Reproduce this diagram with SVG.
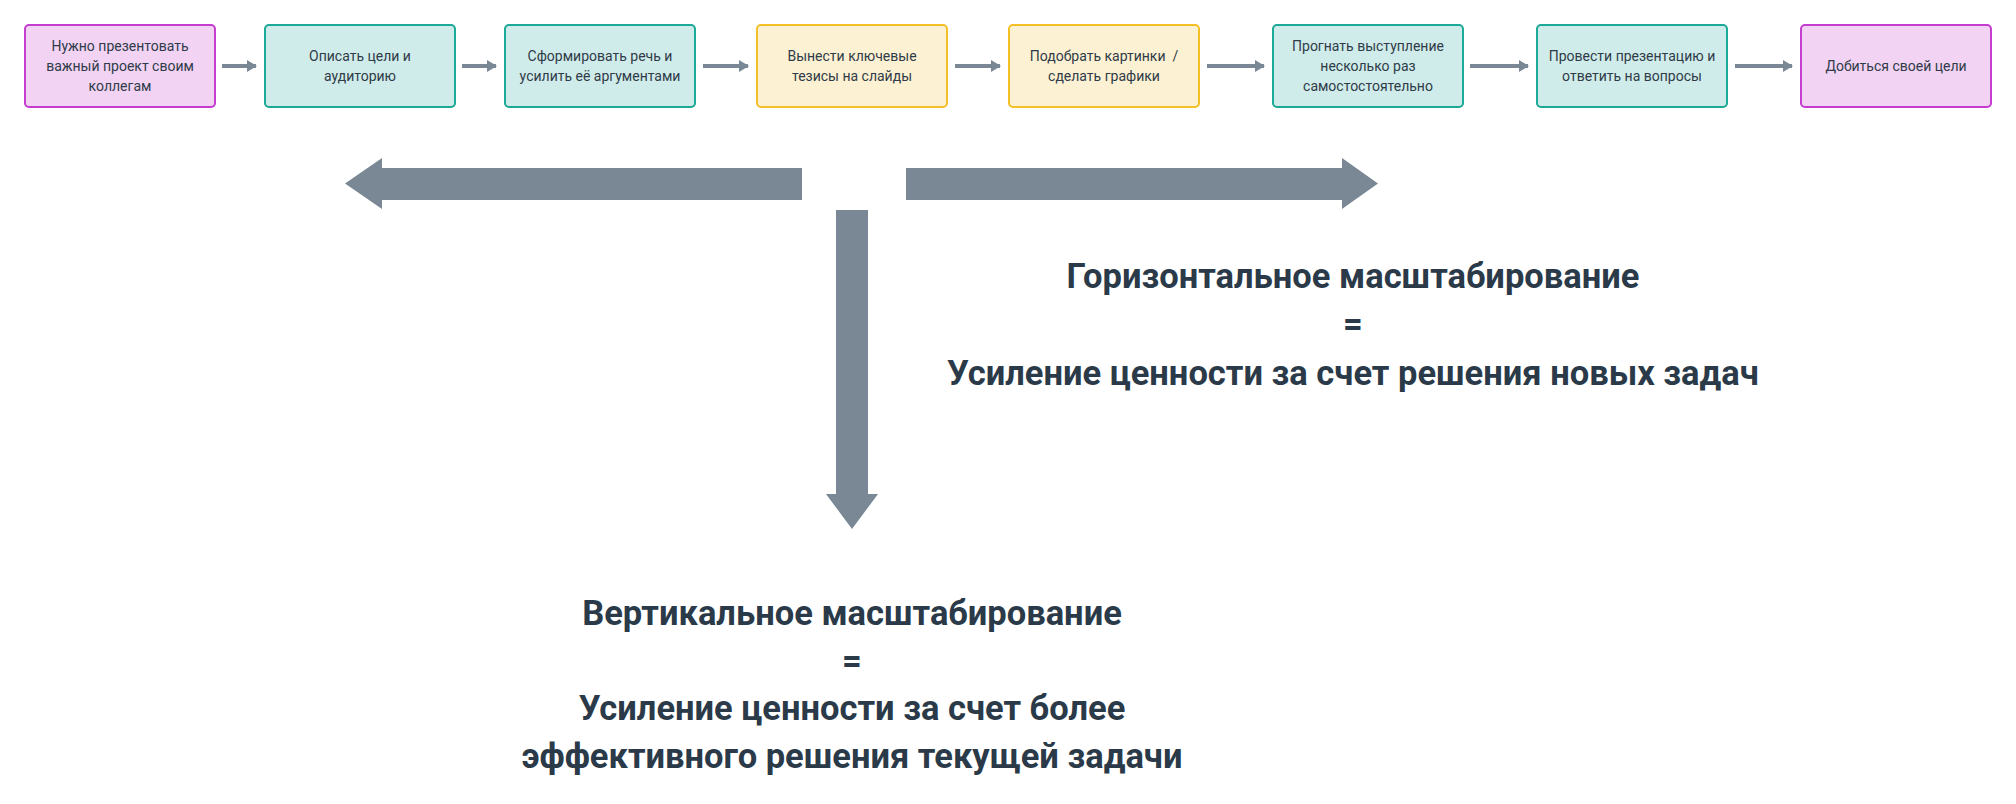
<svg xmlns="http://www.w3.org/2000/svg" width="2016" height="804" viewBox="0 0 2016 804">
<style>
.box{stroke-width:2}
.pink{fill:#F2D3F4;stroke:#C53CD0}
.teal{fill:#CFECEA;stroke:#1CA997}
.yel{fill:#FDF1D3;stroke:#F5BF26}
.bt{font-family:Roboto,"Liberation Sans",sans-serif;font-size:14px;fill:#2F3B48;text-anchor:middle}
.big{font-family:Roboto,"Liberation Sans",sans-serif;font-size:34.5px;font-weight:bold;fill:#2B3A49;text-anchor:middle}
.conn{stroke:#7A8896;stroke-width:4;fill:none}
.fat{fill:#7A8896}
</style>
<defs>
<marker id="ah" viewBox="0 0 10 12" refX="9" refY="6" markerWidth="10" markerHeight="12" markerUnits="userSpaceOnUse" orient="auto">
<path d="M0,0 L10,6 L0,12 Z" fill="#7A8896"/>
</marker>
</defs>
<g id="connectors">
<line class="conn" x1="222" y1="66" x2="256" y2="66" marker-end="url(#ah)"/>
<line class="conn" x1="462" y1="66" x2="496" y2="66" marker-end="url(#ah)"/>
<line class="conn" x1="703" y1="66" x2="748" y2="66" marker-end="url(#ah)"/>
<line class="conn" x1="955" y1="66" x2="1000" y2="66" marker-end="url(#ah)"/>
<line class="conn" x1="1207" y1="66" x2="1264" y2="66" marker-end="url(#ah)"/>
<line class="conn" x1="1470" y1="66" x2="1528" y2="66" marker-end="url(#ah)"/>
<line class="conn" x1="1735" y1="66" x2="1792" y2="66" marker-end="url(#ah)"/>
</g>
<g id="n1"><rect class="box pink" x="25" y="25" width="190" height="82" rx="4"/>
<text class="bt" x="120" y="51">Нужно презентовать</text><text class="bt" x="120" y="71">важный проект своим</text><text class="bt" x="120" y="91">коллегам</text></g>
<g id="n2"><rect class="box teal" x="265" y="25" width="190" height="82" rx="4"/>
<text class="bt" x="360" y="61">Описать цели и</text><text class="bt" x="360" y="81">аудиторию</text></g>
<g id="n3"><rect class="box teal" x="505" y="25" width="190" height="82" rx="4"/>
<text class="bt" x="600" y="61">Сформировать речь и</text><text class="bt" x="600" y="81">усилить её аргументами</text></g>
<g id="n4"><rect class="box yel" x="757" y="25" width="190" height="82" rx="4"/>
<text class="bt" x="852" y="61">Вынести ключевые</text><text class="bt" x="852" y="81">тезисы на слайды</text></g>
<g id="n5"><rect class="box yel" x="1009" y="25" width="190" height="82" rx="4"/>
<text class="bt" x="1104" y="61" xml:space="preserve">Подобрать картинки  /</text><text class="bt" x="1104" y="81">сделать графики</text></g>
<g id="n6"><rect class="box teal" x="1273" y="25" width="190" height="82" rx="4"/>
<text class="bt" x="1368" y="51">Прогнать выступление</text><text class="bt" x="1368" y="71">несколько раз</text><text class="bt" x="1368" y="91">самостостоятельно</text></g>
<g id="n7"><rect class="box teal" x="1537" y="25" width="190" height="82" rx="4"/>
<text class="bt" x="1632" y="61">Провести презентацию и</text><text class="bt" x="1632" y="81">ответить на вопросы</text></g>
<g id="n8"><rect class="box pink" x="1801" y="25" width="190" height="82" rx="4"/>
<text class="bt" x="1896" y="71">Добиться своей цели</text></g>
<g id="arrow-left"><path class="fat" d="M802,168 L382,168 L382,158 L345,183.5 L382,209 L382,200 L802,200 Z"/></g>
<g id="arrow-right"><path class="fat" d="M906,168 L1342,168 L1342,158 L1378,183.5 L1342,209 L1342,200 L906,200 Z"/></g>
<g id="arrow-down"><path class="fat" d="M836,210 L868,210 L868,494 L878,494 L852,529 L826,494 L836,494 Z"/></g>
<g id="label-horizontal">
<text class="big" x="1353" y="288">Горизонтальное масштабирование</text>
<text class="big" x="1353" y="336">=</text>
<text class="big" x="1353" y="385">Усиление ценности за счет решения новых задач</text>
</g>
<g id="label-vertical">
<text class="big" x="852" y="625">Вертикальное масштабирование</text>
<text class="big" x="852" y="673">=</text>
<text class="big" x="852" y="720">Усиление ценности за счет более</text>
<text class="big" x="852" y="768">эффективного решения текущей задачи</text>
</g>
</svg>
